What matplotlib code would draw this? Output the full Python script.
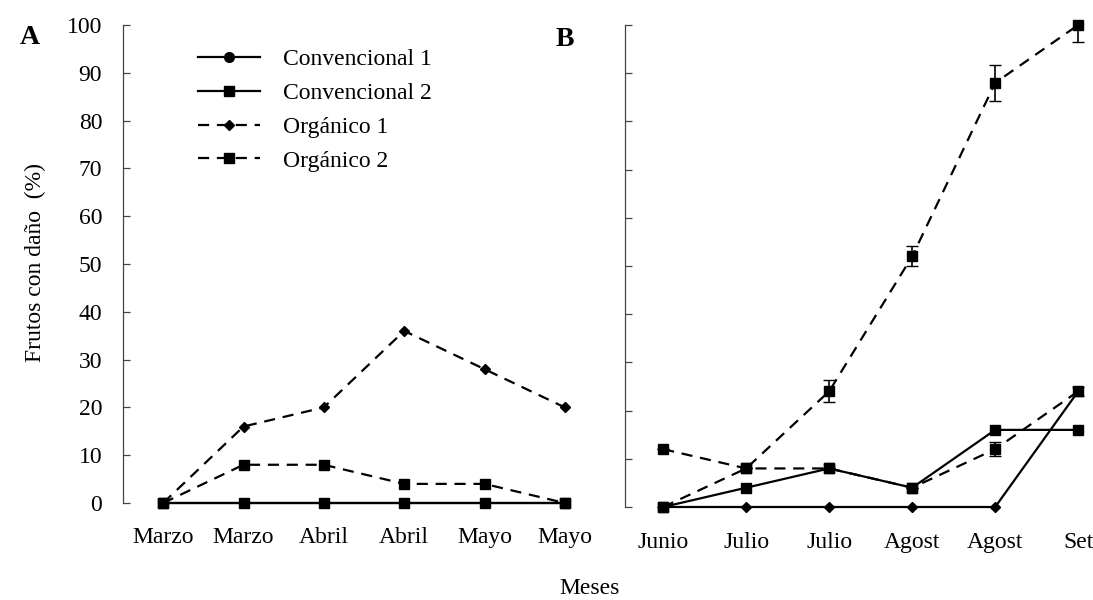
import matplotlib
matplotlib.use("Agg")
from matplotlib import pyplot as plt

plt.rcParams['font.family'] = ['Liberation Serif', 'DejaVu Serif']

meses_a = ["Marzo", "Marzo", "Abril", "Abril", "Mayo", "Mayo"]
meses_b = ["Junio", "Julio", "Julio", "Agost", "Agost", "Set"]
series = ["Convencional 1", "Convencional 2", "Orgánico 1", "Orgánico 2"]

# panel A
conv1_a = [0, 0, 0, 0, 0, 0]
conv2_a = [0, 0, 0, 0, 0, 0]
org1_a = [0, 16, 20, 36, 28, 20]
org2_a = [0, 8, 8, 4, 4, 0]

# panel B
conv1_b = [0, 0, 0, 0, 0, 24]
conv2_b = [0, 4, 8, 4, 16, 16]
org1_b = [12, 8, 8, 4, 12, 24]
org2_b = [0, 8, 24, 52, 88, 100]
org1_b_err = [0, 0, 0, 0, 1.5, 1.0]
org2_b_err = [0, 0, 2.3, 2.1, 3.8, 3.5]

W, H = 1093, 600
fig = plt.figure(figsize=(W / 100, H / 100), dpi=100)
axA = fig.add_axes([123 / W, 97 / H, 482 / W, 478 / H])
axB = fig.add_axes([625 / W, 93 / H, 468 / W, 482 / H])

FS = 17
dash = (0, (5, 3.5))


def style(ax, xlabels, xlim):
    ax.set_ylim(0, 100)
    ax.set_yticks(range(0, 101, 10))
    ax.set_xlim(*xlim)
    ax.set_xticks(range(len(xlabels)))
    ax.set_xticklabels(xlabels, fontsize=FS)
    ax.tick_params(axis='x', length=0, pad=17)
    ax.tick_params(axis='y', direction='in', length=5, width=0.9, color='#444444', labelsize=FS, pad=15)
    for s in ['top', 'right', 'bottom']:
        ax.spines[s].set_visible(False)
    ax.spines['left'].set_color('#444444')
    ax.spines['left'].set_linewidth(0.9)


xa = range(len(meses_a))
axA.plot(xa, conv1_a, color='k', lw=1.6, marker='o', ms=7, clip_on=False, label=series[0])
axA.plot(xa, org1_a, color='k', lw=1.6, ls=dash, marker='D', ms=5, clip_on=False, label=series[2])
axA.plot(xa, org2_a, color='k', lw=1.6, ls=dash, marker='s', ms=7.5, clip_on=False, label=series[3])
axA.plot(xa, conv2_a, color='k', lw=1.6, marker='s', ms=7.5, clip_on=False, label=series[1])
style(axA, meses_a, (-0.5, 5.5))

h, l = axA.get_legend_handles_labels()
order = [l.index(s) for s in series]
axA.legend([h[i] for i in order], [l[i] for i in order], loc='upper left',
           bbox_to_anchor=(0.112, 0.995), frameon=False, fontsize=FS,
           handlelength=2.6, handletextpad=1.0, labelspacing=0.52)

xb = range(len(meses_b))
axB.plot(xb, conv1_b, color='k', lw=1.6, marker='D', ms=5, clip_on=False)
axB.plot(xb, conv2_b, color='k', lw=1.6, marker='s', ms=7.5, clip_on=False)
for vals, err in [(org1_b, org1_b_err), (org2_b, org2_b_err)]:
    line, caps, bars = axB.errorbar(xb, vals, yerr=err, color='k', lw=1.6, ls=dash, marker='s',
                                    ms=7.5, capsize=4, elinewidth=1.2)
    line.set_clip_on(False)
style(axB, meses_b, (-0.46, -0.46 + 468 / 83))
axB.set_yticklabels([])
axB.tick_params(axis='x', pad=18)

fig.text(20 / W, 1 - 38 / H, "A", fontsize=20, fontweight='bold', va='center', ha='left')
fig.text(556 / W, 1 - 40 / H, "B", fontsize=20, fontweight='bold', va='center', ha='left')
fig.text(35 / W, 1 - 262 / H, "Frutos con daño  (%)", fontsize=FS, rotation=90, va='center', ha='center')
fig.text(590 / W, 1 - 588 / H, "Meses", fontsize=FS, va='center', ha='center')

fig.savefig("out.png", dpi=100)
